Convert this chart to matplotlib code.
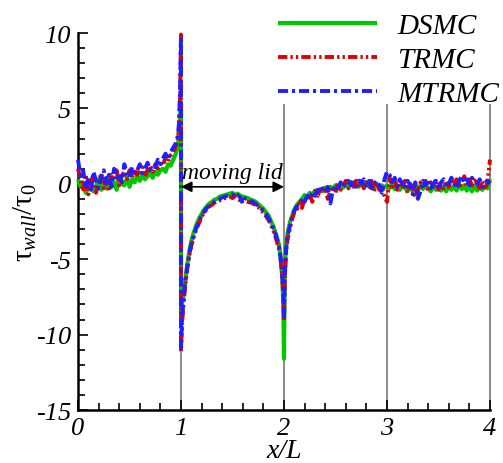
import matplotlib
matplotlib.use("Agg")
import matplotlib.pyplot as plt
import numpy as np

plt.rcParams["font.family"] = ["Liberation Serif", "DejaVu Serif"]
plt.rcParams["mathtext.fontset"] = "custom"
plt.rcParams["mathtext.rm"] = "Liberation Serif"
plt.rcParams["mathtext.it"] = "Liberation Serif:italic"
plt.rcParams["axes.unicode_minus"] = False

# ---- wall shear stress along the cavity walls ----
x_left = [0.000, 0.025, 0.050, 0.075, 0.100, 0.125, 0.150, 0.175, 0.200, 0.225,
          0.250, 0.275, 0.300, 0.325, 0.350, 0.375, 0.400, 0.425, 0.450, 0.475,
          0.500, 0.525, 0.550, 0.575, 0.600, 0.625, 0.650, 0.675, 0.700, 0.725,
          0.750, 0.775, 0.800, 0.825, 0.850, 0.875, 0.900, 0.925, 0.950, 0.970,
          0.980, 0.990, 0.995, 1.000]
x_lid = [1.000, 1.005, 1.010, 1.020, 1.030, 1.040, 1.060, 1.080, 1.100, 1.125,
         1.150, 1.175, 1.200, 1.225, 1.250, 1.275, 1.300, 1.325, 1.350, 1.375,
         1.400, 1.425, 1.450, 1.475, 1.500, 1.525, 1.550, 1.575, 1.600, 1.625,
         1.650, 1.675, 1.700, 1.725, 1.750, 1.775, 1.800, 1.825, 1.850, 1.875,
         1.900, 1.925, 1.950, 1.965, 1.975, 1.985, 1.993, 2.000]
x_right = [2.007, 2.015, 2.025, 2.040, 2.060, 2.080, 2.100, 2.125,
           2.150, 2.175, 2.200, 2.225, 2.250, 2.275, 2.300, 2.325, 2.350, 2.375,
           2.400, 2.425, 2.450, 2.475, 2.500, 2.525, 2.550, 2.575, 2.600, 2.625,
           2.650, 2.675, 2.700, 2.725, 2.750, 2.775, 2.800, 2.825, 2.850, 2.875,
           2.900, 2.925, 2.950, 2.975,
           3.000, 3.025, 3.050, 3.075, 3.100, 3.125, 3.150, 3.175, 3.200, 3.225,
           3.250, 3.275, 3.300, 3.325, 3.350, 3.375, 3.400, 3.425, 3.450, 3.475,
           3.500, 3.525, 3.550, 3.575, 3.600, 3.625, 3.650, 3.675, 3.700, 3.725,
           3.750, 3.775, 3.800, 3.825, 3.850, 3.875, 3.900, 3.925, 3.950, 3.975,
           4.000]

dsmc_left = [0.3, -0.2, 0.1, -0.6, -0.3, 0.2, -0.5, -0.2, 0.3, -0.4,
             0.0, -0.3, 0.4, -0.2, 0.1, -0.4, 0.3, 0.0, -0.1, 0.4,
             -0.2, 0.3, 0.1, 0.5, 0.2, 0.6, 0.3, 0.5, 0.7, 0.4,
             0.8, 0.6, 0.9, 1.0, 0.8, 1.3, 1.2, 1.6, 2.0, 2.6,
             3.2, 4.2, 4.8, 5.3]
trmc_left = [1.0, 0.3, -0.5, 0.6, -0.7, 0.2, 0.5, -0.6, 0.1, 0.7,
             -0.3, 0.4, -0.5, 0.6, 0.2, 0.9, -0.1, 0.5, 0.8, 0.3,
             0.9, 0.4, 1.0, 0.6, 0.8, 1.1, 0.5, 0.9, 1.2, 0.8,
             1.3, 1.0, 1.5, 1.2, 1.8, 1.5, 1.9, 2.1, 2.5, 3.0,
             3.8, 5.5, 7.5, 9.9]
mtrmc_left = [1.6, 0.5, 0.9, -0.3, 0.4, -0.4, 0.8, 0.2, -0.3, 0.5,
              0.9, 0.0, 0.6, -0.2, 1.0, 0.4, 0.7, 0.1, 1.3, 0.6,
              0.4, 1.1, 0.7, 0.9, 1.3, 0.7, 1.0, 1.4, 0.9, 1.2,
              1.1, 1.6, 1.3, 1.7, 2.0, 1.6, 2.1, 2.4, 2.7, 3.2,
              4.0, 6.0, 8.0, 9.8]

dsmc_lid = [-8.5, -8.3, -7.8, -7.6, -7.0, -6.5, -5.4, -4.5, -3.8, -3.2,
            -2.7, -2.3, -2.0, -1.7, -1.5, -1.3, -1.2, -1.05, -1.0, -0.85,
            -0.8, -0.75, -0.7, -0.65, -0.6, -0.75, -0.65, -0.8, -0.85, -0.9,
            -0.95, -1.05, -1.1, -1.2, -1.35, -1.5, -1.65, -1.9, -2.1, -2.5,
            -2.9, -3.4, -4.0, -4.7, -5.4, -6.3, -8.0, -11.6]
trmc_lid = [-11.1, -10.2, -9.4, -8.3, -7.6, -6.8, -5.7, -4.8, -4.1, -3.5,
            -3.0, -2.6, -2.2, -1.9, -1.7, -1.5, -1.4, -1.25, -1.15, -1.1,
            -1.0, -0.95, -0.9, -0.85, -0.95, -0.8, -1.0, -1.1, -0.95, -1.15,
            -1.2, -1.25, -1.3, -1.45, -1.55, -1.75, -1.9, -2.15, -2.4, -2.75,
            -3.15, -3.7, -4.3, -4.9, -5.6, -6.4, -7.5, -9.1]
mtrmc_lid = [-10.9, -10.0, -9.1, -8.1, -7.3, -6.6, -5.5, -4.7, -4.0, -3.4,
             -2.9, -2.5, -2.1, -1.85, -1.6, -1.45, -1.3, -1.2, -1.1, -1.0,
             -0.9, -0.85, -0.8, -0.75, -0.7, -0.85, -0.75, -0.9, -1.3, -0.95,
             -1.05, -1.15, -1.2, -1.35, -1.45, -1.6, -1.8, -2.0, -2.3, -2.6,
             -3.0, -3.5, -4.1, -4.8, -5.5, -6.3, -7.4, -8.8]

dsmc_right = [-6.0, -4.7, -3.8, -3.1, -2.5, -2.1, -1.7, -1.4,
              -1.2, -1.0, -0.75, -0.9, -0.6, -0.75, -0.45, -0.6, -0.35, -0.5,
              -0.25, -0.45, -0.2, -0.35, -0.1, -0.3, 0.0, -0.25, 0.05, -0.2,
              0.1, -0.15, 0.1, -0.2, 0.05, -0.25, 0.1, -0.15, 0.05, -0.3,
              0.0, -0.2, -0.1, -0.25,
              -0.1, -0.3, 0.0, -0.35, -0.1, -0.4, -0.05, -0.3, -0.45, -0.2,
              -0.5, -0.15, -0.4, -0.1, -0.35, -0.05, -0.3, -0.5, -0.1, -0.4,
              -0.15, -0.45, -0.2, -0.5, -0.1, -0.4, -0.15, -0.45, 0.0, -0.35,
              -0.1, -0.45, -0.2, -0.5, -0.15, -0.45, -0.1, -0.4, -0.2, -0.3,
              0.3]
trmc_right = [-6.6, -5.2, -4.1, -3.5, -2.9, -2.3, -1.9, -1.7,
              -1.3, -1.6, -0.9, -1.1, -0.7, -1.2, -0.5, -0.8, -0.4, -0.6,
              -0.3, -1.0, -0.5, -0.2, -0.6, 0.1, -0.4, -0.1, 0.2, -0.3,
              0.1, -0.2, 0.2, -0.1, 0.3, -0.3, 0.1, -0.2, 0.2, -0.5,
              0.1, -0.4, -0.2, -0.8,
              -1.2, 0.4, -0.2, 0.3, -0.4, 0.1, -0.3, 0.2, -0.6, 0.0,
              -0.2, -0.9, -0.4, 0.1, -0.3, 0.2, -0.5, 0.1, -0.2, 0.3,
              -0.4, 0.0, -0.3, 0.2, -0.2, 0.4, -0.1, 0.3, -0.3, 0.1,
              0.5, -0.2, 0.3, -0.1, 0.4, 0.0, -0.3, 0.2, -0.4, 0.1,
              1.6]
mtrmc_right = [-6.4, -5.0, -3.9, -3.3, -2.7, -2.2, -1.8, -1.5,
               -1.4, -1.0, -1.2, -0.8, -1.0, -0.6, -0.8, -0.4, -0.6, -0.3,
               -0.5, -0.2, -1.3, -0.4, -0.1, -0.3, 0.1, -0.2, 0.0, 0.2,
               -0.1, 0.1, -0.2, 0.2, 0.0, 0.3, -0.1, 0.2, -0.3, 0.0,
               0.2, -0.1, -0.6, 0.3,
               0.8, 0.6, 0.1, 0.4, -0.2, 0.3, 0.0, -0.3, 0.2, -0.1,
               -0.7, 0.1, -1.0, -0.5, 0.2, -0.1, 0.3, -0.3, 0.0, 0.2,
               -0.4, 0.1, 0.3, -0.2, 0.0, 0.4, 0.1, -0.3, 0.2, 0.5,
               0.1, 0.3, -0.1, 0.4, 0.2, 0.0, 0.3, -0.2, 0.1, 0.2,
               0.0]

series_names = ["DSMC", "TRMC", "MTRMC"]
x_ticks = [0, 1, 2, 3, 4]
y_ticks = [10, 5, 0, -5, -10, -15]

x_all = np.array(x_left + x_lid + x_right)
curves = {
    "DSMC": np.array(dsmc_left + dsmc_lid + dsmc_right),
    "TRMC": np.array(trmc_left + trmc_lid + trmc_right),
    "MTRMC": np.array(mtrmc_left + mtrmc_lid + mtrmc_right),
}
styles = {
    "DSMC": dict(color="#00c800", lw=3.0, ls="-"),
    "TRMC": dict(color="#e00000", lw=2.8, ls=(0, (2.4, 0.8, 0.6, 0.8, 0.6, 0.8))),
    "MTRMC": dict(color="#1f1fff", lw=2.8, ls=(0, (2.6, 1.0, 0.8, 1.0))),
}

fig = plt.figure(figsize=(5.03, 4.64), dpi=100)
ax = fig.add_axes([78 / 503, 53 / 464, 412 / 503, 377 / 464])

# wall corners
for xc in [1, 2, 3, 4]:
    ax.plot([xc, xc], [-15, 5.2], color="#8a8a8a", lw=1.4, zorder=1, clip_on=False)

for name in series_names:
    ax.plot(x_all, curves[name], label=name, zorder=3, clip_on=False,
            solid_capstyle="butt", dash_capstyle="butt", **styles[name])

ax.set_xlim(0, 4)
ax.set_ylim(-15, 10)
ax.spines["top"].set_visible(False)
ax.spines["right"].set_visible(False)
ax.spines["left"].set_linewidth(1.8)
ax.spines["bottom"].set_linewidth(1.8)

ax.tick_params(which="both", direction="in", width=1.2)
ax.tick_params(which="major", length=7, pad=5, labelsize=19)
ax.tick_params(which="minor", length=5)
ax.set_xticks(x_ticks, labels=[str(v) for v in x_ticks])
ax.set_yticks(y_ticks, labels=[str(v) for v in y_ticks])
ax.set_xticks(np.arange(0, 4.01, 0.2), minor=True)
ax.set_yticks(np.arange(-15, 10.01, 1), minor=True)

ax.set_xlabel("x/L", fontsize=20, fontstyle="italic", labelpad=-1)
ax.set_ylabel("τ$_{wall}$/τ$_0$", fontsize=21)
ax.yaxis.set_label_coords(-0.095, 0.5)

# moving lid annotation
ax.annotate("", xy=(1, -0.2), xytext=(2, -0.2),
            arrowprops=dict(arrowstyle="<|-|>", color="black", lw=1.2,
                            mutation_scale=16, shrinkA=0, shrinkB=0))
ax.text(1.5, 0.02, "moving lid", ha="center", va="bottom", fontsize=17,
        fontstyle="italic")

leg = ax.legend(loc="upper left", bbox_to_anchor=(275 / 503, 1 - 11 / 464),
                bbox_transform=fig.transFigure, frameon=False,
                prop=dict(family="Liberation Serif", style="italic", size=21),
                handlelength=3.4, handletextpad=0.7, labelspacing=0.25,
                borderpad=0.1, borderaxespad=0)

# italic tick labels, applied once the ticks exist
fig.canvas.draw()
for lab in ax.get_xticklabels() + ax.get_yticklabels():
    lab.set_fontstyle("italic")

fig.savefig("out.png", dpi=100)
